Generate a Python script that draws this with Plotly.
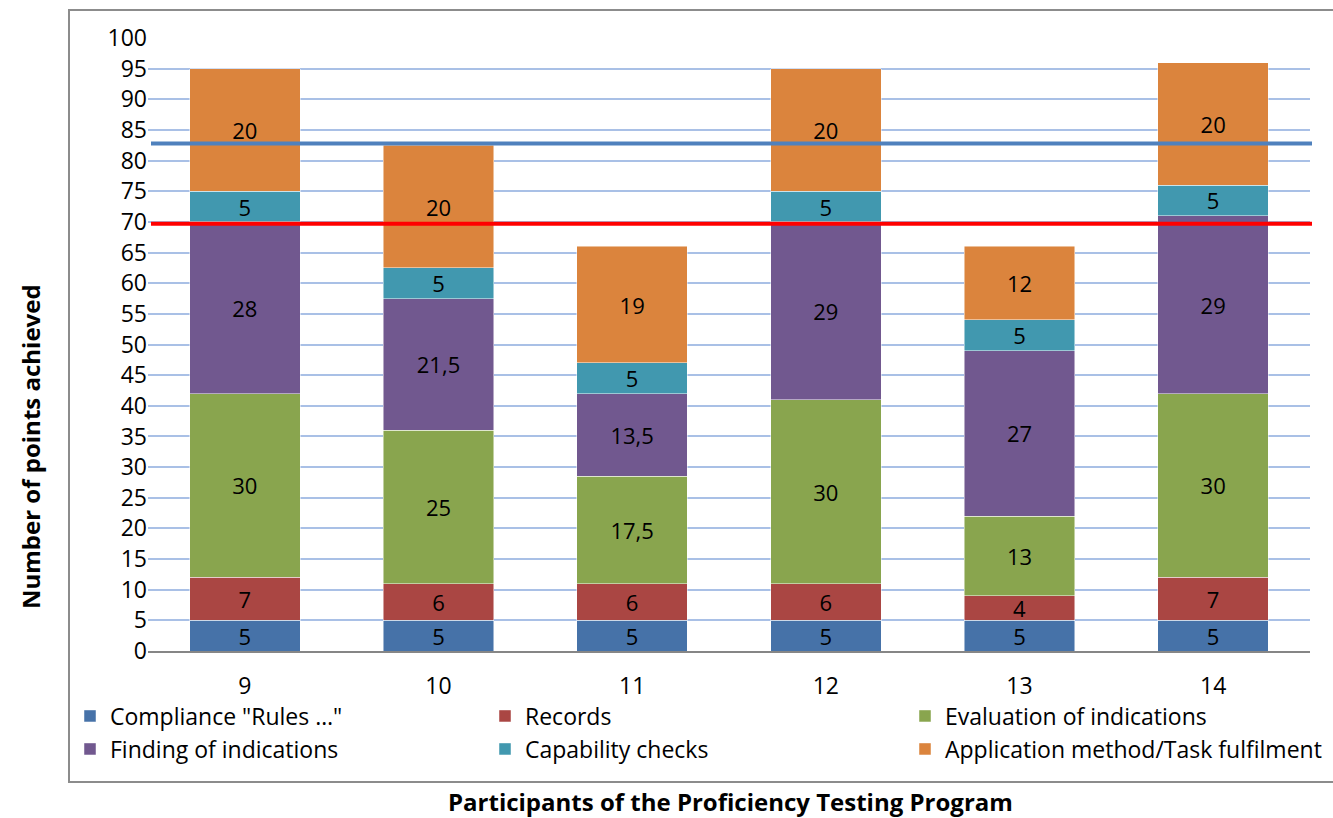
import plotly.graph_objects as go

participants = ["9", "10", "11", "12", "13", "14"]
series_names = ["Compliance \"Rules …\"", "Records", "Evaluation of indications",
                "Finding of indications", "Capability checks", "Application method/Task fulfilment"]
compliance = [5, 5, 5, 5, 5, 5]
records = [7, 6, 6, 6, 4, 7]
evaluation = [30, 25, 17.5, 30, 13, 30]
finding = [28, 21.5, 13.5, 29, 27, 29]
capability = [5, 5, 5, 5, 5, 5]
application = [20, 20, 19, 20, 12, 20]
colors = ["#4672A8", "#AA4643", "#89A54E", "#71588F", "#4198AF", "#DB843D"]
blue_line_value = 82.8
red_line_value = 69.7
y_ticks = list(range(0, 101, 5))

FONT = "Open Sans"
FS = 23
FS_BAR = 22
FS_TITLE = 24
W, H = 1333, 818
L, R, T, B = 148, 23, 38, 167
PW, PH = W - L - R, H - T - B

def px(x):
    return (x - L) / PW

def py(y):
    return (H - B - y) / PH

def fmt(v):
    return ("%g" % v).replace(".", ",")

# legend slot positions (pixels): column x of item start, row y centre
legend_cols = [70, 485, 905]
legend_rows = [716, 749]

fig = go.Figure()
all_series = [compliance, records, evaluation, finding, capability, application]
legend_layouts = {}
for i, (name, vals, col) in enumerate(zip(series_names, all_series, colors)):
    lname = "legend" if i == 0 else "legend%d" % (i + 1)
    fig.add_trace(go.Bar(
        x=participants, y=vals, name=name,
        marker=dict(color=col, line=dict(color="rgba(255,255,255,0.6)", width=0.8)),
        text=[fmt(v) for v in vals], textposition="inside", insidetextanchor="middle",
        constraintext="none", textangle=0,
        textfont=dict(family=FONT, size=FS_BAR, color="black"),
        legend=lname,
        hoverinfo="skip",
    ))
    legend_layouts[lname] = dict(
        orientation="h", x=px(legend_cols[i % 3]), y=py(legend_rows[i // 3]),
        xanchor="left", yanchor="middle", font=dict(family=FONT, size=FS),
        bgcolor="rgba(0,0,0,0)", borderwidth=0)

fig.update_layout(
    width=W, height=H, barmode="stack", bargap=0.43,
    margin=dict(l=L, r=R, t=T, b=B, autoexpand=False),
    plot_bgcolor="white", paper_bgcolor="white",
    font=dict(family=FONT, size=FS, color="black"),
    uniformtext=dict(minsize=FS_BAR, mode="show"),
    showlegend=True,
    **legend_layouts,
)
fig.update_yaxes(range=[0, 100], tickvals=y_ticks, showgrid=True, gridcolor="#A9C0E6",
                 gridwidth=1.5, zeroline=False, showline=False, ticks="",
                 tickfont=dict(family=FONT, size=FS), fixedrange=True)
fig.update_xaxes(showline=True, linecolor="#868686", linewidth=2, ticks="",
                 tickfont=dict(family=FONT, size=FS), ticklabelstandoff=13, fixedrange=True)

# reference lines
for val, col in [(blue_line_value, "#4F81BD"), (red_line_value, "#FF0000")]:
    fig.add_shape(type="line", xref="paper", yref="y", x0=px(151), x1=px(1312),
                  y0=val, y1=val, line=dict(color=col, width=4))

# border
fig.add_shape(type="rect", xref="paper", yref="paper", x0=px(69), x1=px(1345),
              y0=py(782), y1=py(10), line=dict(color="#8C8C8C", width=2), layer="below")

fig.add_annotation(text="<b>Number of points achieved</b>", xref="paper", yref="paper",
                   x=px(30), y=py(447), textangle=-90, showarrow=False,
                   xanchor="center", yanchor="middle",
                   font=dict(family=FONT, size=FS_TITLE, color="black"))
fig.add_annotation(text="<b>Participants of the Proficiency Testing Program</b>", xref="paper",
                   yref="paper", x=px(730), y=py(801), showarrow=False,
                   xanchor="center", yanchor="middle",
                   font=dict(family=FONT, size=FS_TITLE, color="black"))

fig.write_html("out.html", config={"displayModeBar": False},
               post_script="document.body.style.margin='0';")
